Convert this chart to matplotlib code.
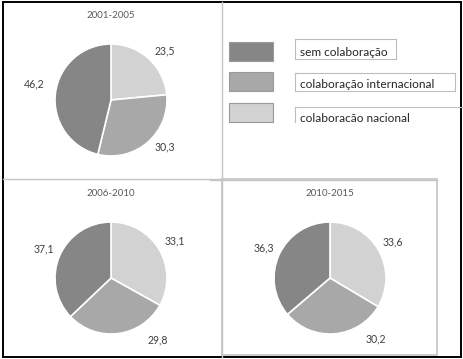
import numpy as np
import matplotlib
matplotlib.use("Agg")
import matplotlib.pyplot as plt
from matplotlib.patches import Rectangle

plt.rcParams['font.family'] = ['Lato', 'DejaVu Sans']

# data (clockwise from 12 o'clock: nacional, internacional, sem colaboracao)
categories = ["colaboração nacional", "colaboração internacional", "sem colaboração"]
periods = ["2001-2005", "2006-2010", "2010-2015"]
v_2001_2005 = [23.5, 30.3, 46.2]
v_2006_2010 = [33.1, 29.8, 37.1]
v_2010_2015 = [33.6, 30.2, 36.3]
legend_order = ["sem colaboração", "colaboração internacional", "colaboração nacional"]

colors = {"sem colaboração": "#868686",
          "colaboração internacional": "#a8a8a8",
          "colaboração nacional": "#d2d2d2"}

W, H = 464, 359
fig = plt.figure(figsize=(W / 100, H / 100), dpi=100)
fig.patch.set_facecolor("white")

# overlay in pixel coords for frames and legend
bg = fig.add_axes([0, 0, 1, 1])
bg.set_xlim(0, W)
bg.set_ylim(H, 0)
bg.axis("off")

grey = "#c4c4c4"
# outer black frame
bg.add_patch(Rectangle((3, 2), 458, 355, fill=False, ec="black", lw=1.4))
# inner panel lines
bg.plot([222, 222], [2, 180], color=grey, lw=1)
bg.plot([210, 437], [180, 180], color=grey, lw=1)
bg.plot([3, 222], [179, 179], color=grey, lw=1)
bg.plot([222, 222], [179, 357], color=grey, lw=1)
bg.add_patch(Rectangle((222, 179), 215, 176, fill=False, ec=grey, lw=1.2))

# legend
sw_y = [42, 72, 103]
box_y = [(39, 59), (73, 91), (107, 121.5)]
box_x1 = [396, 455, 470]
base_y = [56, 88, 122]
for name, sy, (b0, b1), bx, by in zip(legend_order, sw_y, box_y, box_x1, base_y):
    bg.add_patch(Rectangle((229, sy), 44, 19, fc=colors[name], ec="#9a9a9a", lw=0.8))
    bg.plot([295, bx], [b0, b0], color="#bdbdbd", lw=0.8)
    bg.plot([295, 295], [b0, b1], color="#bdbdbd", lw=0.8)
    if bx < 465:
        bg.plot([bx, bx], [b0, b1], color="#bdbdbd", lw=0.8)
        bg.plot([295, bx], [b1, b1], color="#bdbdbd", lw=0.8)
    clip = Rectangle((295, b0), 166 if bx > 461 else bx - 295, b1 - b0,
                     transform=bg.transData, visible=False)
    bg.add_patch(clip)
    t = bg.text(300, by, name, fontsize=8.6, color="#262626",
                ha="left", va="baseline")
    t.set_clip_on(True)
    t.set_clip_path(clip)

# pies: values, title, centre px, title y px, label angle nudge (deg), label dist
pies = [(v_2001_2005, periods[0], 111, 100, 16, [-5, 8, -5], [1.3, 1.28, 1.4]),
        (v_2006_2010, periods[1], 111, 278, 193, [0, 30, 0], [1.32, 1.38, 1.3]),
        (v_2010_2015, periods[2], 330, 278, 193, [0, 32, 0], [1.3, 1.36, 1.3])]
r = 56
for vals, title, cx, cy, ty, nudge, dist in pies:
    ax = fig.add_axes([(cx - r) / W, (H - cy - r) / H, 2 * r / W, 2 * r / H])
    wedges, _ = ax.pie(vals, colors=[colors[c] for c in categories],
                       startangle=90, counterclock=False,
                       wedgeprops=dict(edgecolor="white", linewidth=1.2))
    for w, v, dn, d in zip(wedges, vals, nudge, dist):
        ang = np.deg2rad((w.theta1 + w.theta2) / 2 + dn)
        ax.text(d * np.cos(ang), d * np.sin(ang), f"{v:.1f}".replace(".", ","),
                fontsize=7.6, color="#404040", ha="center", va="center")
    ax.set_xlim(-1.0, 1.0)
    ax.set_ylim(-1.0, 1.0)
    ax.set_aspect("auto")
    bg.text(cx, ty, title, fontsize=7, color="#595959", ha="center", va="center")

fig.savefig("out.png", dpi=100, facecolor="white")
